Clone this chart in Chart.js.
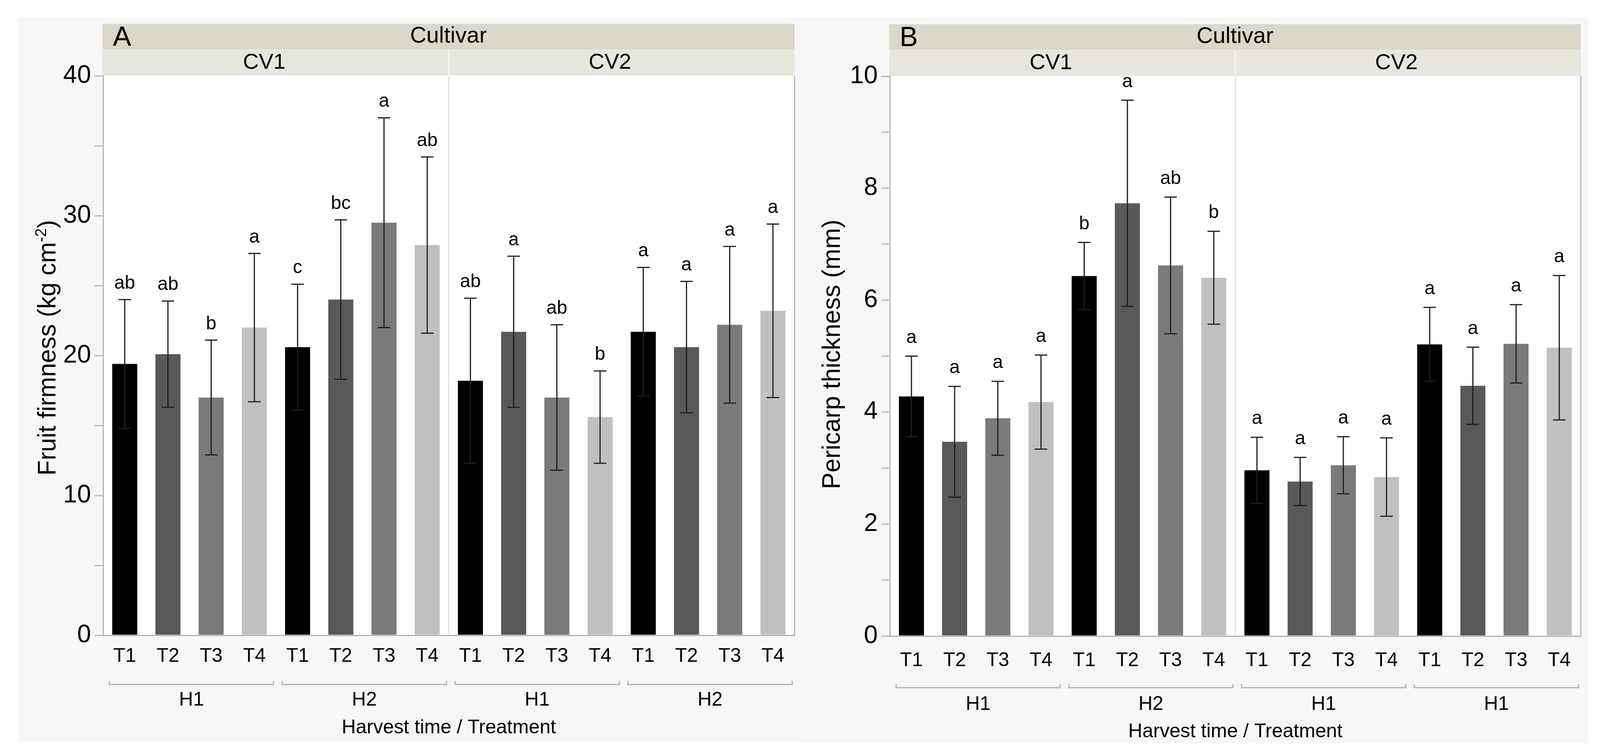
<!DOCTYPE html>
<html><head><meta charset="utf-8">
<script src="https://cdn.jsdelivr.net/npm/chart.js@4.4.0/dist/chart.umd.min.js"></script>
<style>
html,body{margin:0;padding:0;background:#fff;}
#wrap{position:relative;width:4110px;height:1935px;overflow:hidden;background:#fff;}
canvas{position:absolute;top:0;}
#ca{left:0;width:2050px;height:1935px;}
#cb{left:2050px;width:2060px;height:1935px;}
</style></head><body>
<div id="wrap"><canvas id="ca" width="2050" height="1935"></canvas><canvas id="cb" width="2060" height="1935"></canvas></div>
<script>
// ---- data ----
const treatments = ['T1','T2','T3','T4','T1','T2','T3','T4','T1','T2','T3','T4','T1','T2','T3','T4'];
const cultivars = ['CV1','CV2'];
const harvestA = ['H1','H2','H1','H2'];
const harvestB = ['H1','H2','H1','H1'];

const firmness     = [19.4, 20.1, 17.0, 22.0, 20.6, 24.0, 29.5, 27.9, 18.2, 21.7, 17.0, 15.6, 21.7, 20.6, 22.2, 23.2];
const firmnessErr  = [4.6, 3.8, 4.1, 5.3, 4.5, 5.7, 7.5, 6.3, 5.9, 5.4, 5.2, 3.3, 4.6, 4.7, 5.6, 6.2];
const firmnessLetters = ['ab','ab','b','a','c','bc','a','ab','ab','a','ab','b','a','a','a','a'];

const pericarp     = [4.28, 3.47, 3.89, 4.18, 6.43, 7.73, 6.62, 6.40, 2.96, 2.76, 3.05, 2.84, 5.21, 4.47, 5.22, 5.15];
const pericarpErr  = [0.72, 0.99, 0.66, 0.84, 0.60, 1.84, 1.22, 0.83, 0.59, 0.43, 0.51, 0.70, 0.66, 0.69, 0.70, 1.29];
const pericarpLetters = ['a','a','a','a','b','a','ab','b','a','a','a','a','a','a','a','a'];

const yTicksA = {max: 40, step: 5, labelEvery: 10};
const yTicksB = {max: 10, step: 1, labelEvery: 2};

// ---- style ----
const FONT = '"Liberation Sans", Arial, Helvetica, sans-serif';
const treatColors = ['#000000', '#595959', '#7a7a7a', '#c0c0c0'];
const AXIS = '#b4b4b4';

function makePanel(id, o) {
  const decor = {
    id: 'decor',
    beforeDraw(chart) {
      const ctx = chart.ctx, a = chart.chartArea;
      ctx.save();
      ctx.fillStyle = '#ffffff';
      ctx.fillRect(0, 0, chart.width, chart.height);
      ctx.fillStyle = '#f7f7f7';
      ctx.fillRect(o.bg[0], o.bg[1], o.bg[2] - o.bg[0], o.bg[3] - o.bg[1]);
      ctx.fillStyle = '#ffffff';
      ctx.fillRect(a.left, a.top, a.right - a.left, a.bottom - a.top);
      // header bands
      const bl = a.left - 2, br = a.right;
      ctx.fillStyle = '#dad8c8';
      ctx.fillRect(bl, a.top - 133, br - bl, 66);
      ctx.fillStyle = '#e7e6dc';
      ctx.fillRect(bl, a.top - 66, br - bl, 65);
      const xs = chart.scales.x;
      const mid = (xs.getPixelForValue(7) + xs.getPixelForValue(8)) / 2;
      ctx.fillStyle = '#f3f2ec';
      ctx.fillRect(mid - 2, a.top - 66, 4, 65);
      ctx.fillStyle = '#000';
      ctx.textBaseline = 'alphabetic';
      ctx.font = '70px ' + FONT;
      ctx.textAlign = 'left';
      ctx.fillText(o.letter, a.left + 25, a.top - 77);
      ctx.font = '58px ' + FONT;
      ctx.textAlign = 'center';
      ctx.fillText('Cultivar', (bl + br) / 2, a.top - 85);
      ctx.font = '56px ' + FONT;
      ctx.fillText(cultivars[0], (a.left + mid) / 2 - 30, a.top - 18);
      ctx.fillText(cultivars[1], (mid + a.right) / 2 - 30, a.top - 18);
      ctx.restore();
    },
    afterDatasetsDraw(chart) {
      const ctx = chart.ctx, ys = chart.scales.y;
      const meta = chart.getDatasetMeta(0);
      ctx.save();
      ctx.strokeStyle = '#1e1e1e';
      ctx.lineWidth = 3;
      ctx.fillStyle = '#000';
      ctx.font = '48px ' + FONT;
      ctx.textAlign = 'center';
      ctx.textBaseline = 'alphabetic';
      o.values.forEach((v, i) => {
        const x = meta.data[i].x;
        const yt = ys.getPixelForValue(v + o.errs[i]);
        const yb = ys.getPixelForValue(v - o.errs[i]);
        ctx.beginPath();
        ctx.moveTo(x, yt); ctx.lineTo(x, yb);
        ctx.moveTo(x - 16, yt); ctx.lineTo(x + 16, yt);
        ctx.moveTo(x - 16, yb); ctx.lineTo(x + 16, yb);
        ctx.stroke();
        ctx.fillText(o.letters[i], x, yt - o.letterGap);
      });
      ctx.restore();
    },
    afterDraw(chart) {
      const ctx = chart.ctx, a = chart.chartArea, xs = chart.scales.x;
      ctx.save();
      // right border & cultivar divider
      ctx.strokeStyle = AXIS; ctx.lineWidth = 3;
      ctx.beginPath(); ctx.moveTo(a.right, a.top); ctx.lineTo(a.right, a.bottom); ctx.stroke();
      const cw = (a.right - a.left) / treatments.length;
      const mid = (xs.getPixelForValue(7) + xs.getPixelForValue(8)) / 2;
      ctx.strokeStyle = '#d6d6d6'; ctx.lineWidth = 2;
      ctx.beginPath(); ctx.moveTo(mid, a.top); ctx.lineTo(mid, a.bottom); ctx.stroke();
      // brackets and harvest labels
      ctx.strokeStyle = '#b0b0b0'; ctx.lineWidth = 3;
      ctx.fillStyle = '#000';
      ctx.font = '50px ' + FONT;
      ctx.textAlign = 'center';
      ctx.textBaseline = 'middle';
      o.harvest.forEach((h, g) => {
        const gl = xs.getPixelForValue(g * 4) - cw / 2 + 16;
        const gr = xs.getPixelForValue(g * 4 + 3) + cw / 2 - 6;
        const by = a.bottom + o.bracketY;
        ctx.beginPath();
        ctx.moveTo(gl, by - 9); ctx.lineTo(gl, by); ctx.lineTo(gr, by); ctx.lineTo(gr, by - 9);
        ctx.stroke();
        ctx.fillText(h, (gl + gr) / 2, a.bottom + o.hLabelY);
      });
      ctx.fillText('Harvest time / Treatment', (a.left + a.right) / 2, a.bottom + o.xTitleY);
      // y title with superscript
      ctx.translate(o.yTitleX, o.yTitleY);
      ctx.rotate(-Math.PI / 2);
      ctx.textAlign = 'left';
      ctx.textBaseline = 'alphabetic';
      let total = 0;
      o.yTitle.forEach(p => { ctx.font = p.s + 'px ' + FONT; p.w = ctx.measureText(p.t).width; total += p.w; });
      let x = -total / 2;
      o.yTitle.forEach(p => { ctx.font = p.s + 'px ' + FONT; ctx.fillText(p.t, x, p.dy); x += p.w; });
      ctx.restore();
    }
  };

  return new Chart(document.getElementById(id), {
    type: 'bar',
    data: {
      labels: treatments,
      datasets: [{
        data: o.values,
        backgroundColor: o.values.map((v, i) => treatColors[i % 4]),
        borderWidth: 0,
        barPercentage: 0.58,
        categoryPercentage: 1.0
      }]
    },
    options: {
      responsive: false, animation: false, devicePixelRatio: 1,
      layout: {padding: o.pad},
      plugins: {legend: {display: false}, tooltip: {enabled: false}},
      scales: {
        x: {
          type: 'category', offset: true,
          grid: {display: false, drawTicks: false},
          border: {display: true, color: AXIS, width: 3},
          ticks: {autoSkip: false, maxRotation: 0, minRotation: 0, padding: o.xPad, color: '#000', font: {family: FONT, size: 50}},
          afterFit(s) { s.height = 120; }
        },
        y: {
          min: 0, max: o.ticks.max,
          grid: {drawOnChartArea: false, drawTicks: true, tickLength: 22, color: AXIS, lineWidth: 3},
          border: {display: true, color: AXIS, width: 3},
          ticks: {stepSize: o.ticks.step, padding: 9, color: '#000', font: {family: FONT, size: 64},
                  callback: v => (Math.abs(v % o.ticks.labelEvery) < 1e-9 ? String(v) : '')},
          afterFit(s) { s.width = o.yWidth; }
        }
      }
    },
    plugins: [decor]
  });
}

makePanel('ca', {
  letter: 'A', values: firmness, errs: firmnessErr, letters: firmnessLetters, harvest: harvestA,
  ticks: yTicksA, bg: [46, 45, 2050, 1898],
  pad: {left: 46, right: 16, top: 194, bottom: 189}, yWidth: 218,
  xPad: 24, letterGap: 28, bracketY: 126, hLabelY: 166, xTitleY: 237,
  yTitleX: 142, yTitleY: 890,
  yTitle: [{t: 'Fruit firmness (kg cm', s: 64, dy: 0}, {t: '-2', s: 40, dy: -24}, {t: ')', s: 64, dy: 0}]
});

makePanel('cb', {
  letter: 'B', values: pericarp, errs: pericarpErr, letters: pericarpLetters, harvest: harvestB,
  ticks: yTicksB, bg: [0, 45, 2014, 1901],
  pad: {left: 0, right: 63, top: 195, bottom: 187}, yWidth: 228,
  xPad: 33, letterGap: 34, bracketY: 132, hLabelY: 175, xTitleY: 245,
  yTitleX: 100, yTitleY: 907,
  yTitle: [{t: 'Pericarp thickness (mm)', s: 64, dy: 0}]
});
</script>
</body></html>
